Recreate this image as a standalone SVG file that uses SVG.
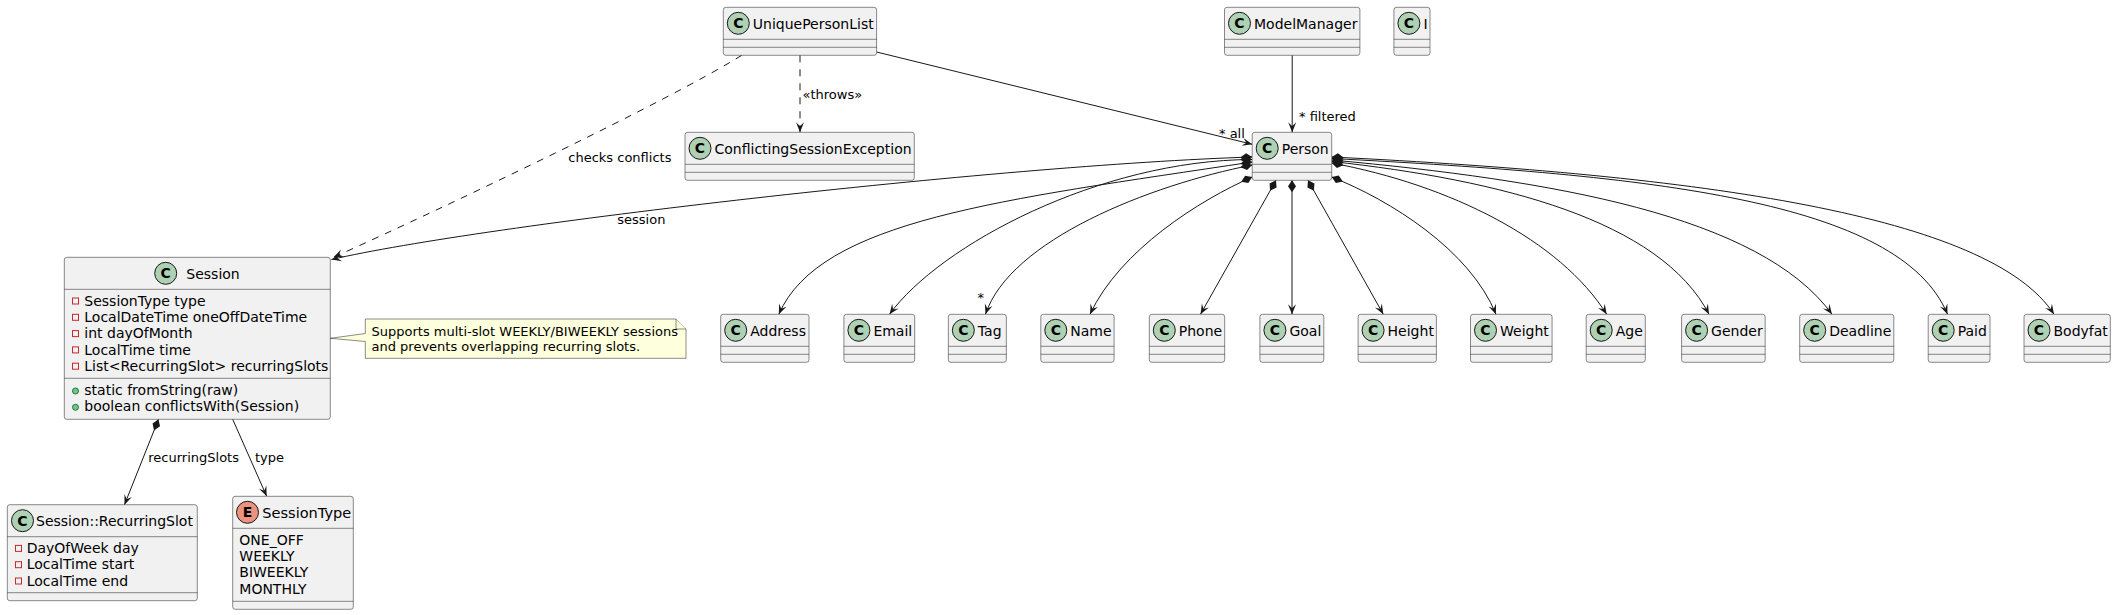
<svg xmlns="http://www.w3.org/2000/svg" width="2115" height="615" viewBox="0 0 2115 615">
<style>
.box{fill:#F1F1F1;stroke:#181818;stroke-width:0.5}
.sep{stroke:#181818;stroke-width:0.5}
.ci{fill:#ADD1B2;stroke:#181818;stroke-width:1}
.ei{fill:#EB937F;stroke:#181818;stroke-width:1}
.cl{font-family:"DejaVu Sans",sans-serif;font-size:14px;font-weight:bold;text-anchor:middle;fill:#000}
.nm{font-family:"DejaVu Sans",sans-serif;font-size:14px;fill:#000}
.lb{font-family:"DejaVu Sans",sans-serif;font-size:13px;fill:#000}
.edge{fill:none;stroke:#181818;stroke-width:1}
.dash{stroke-dasharray:7,7}
.arr{marker-end:url(#arrow)}
.comp{marker-start:url(#diamond)}
.priv{fill:none;stroke:#C82930;stroke-width:1}
.pub{fill:#84BE84;stroke:#038048;stroke-width:1}
.note{fill:#FEFFDD;stroke:#181818;stroke-width:0.5}
</style>
<defs>
<marker id="arrow" markerUnits="userSpaceOnUse" markerWidth="12" markerHeight="10" refX="10" refY="4" orient="auto" overflow="visible"><path d="M0,0 L10,4 L0,8 L4,4 Z" fill="#181818"/></marker>
<marker id="diamond" markerUnits="userSpaceOnUse" markerWidth="14" markerHeight="10" refX="0" refY="4" orient="auto" overflow="visible"><path d="M0,4 L6,0 L12,4 L6,8 Z" fill="#181818"/></marker>
</defs>
<rect x="0" y="0" width="2115" height="615" fill="#FFFFFF"/>

<g id="connectors">
<path class="edge dash arr" d="M800,55.3 L800,132.3"/>
<path class="edge dash arr" d="M741.7,55.3 C670,100 450,205 333.5,257.3"/>
<path class="edge arr" d="M876.6,52 L1252.2,144.3"/>
<path class="edge arr" d="M1292.2,55.3 L1292.2,132.3"/>
<path class="edge comp arr" d="M1252.2,157 C1000,165 480,225 331.5,259.5"/>
<path class="edge comp arr" d="M1252.2,162 C1000,200 820,220 778.8,314.3"/>
<path class="edge comp arr" d="M1252.2,159.5 C1100,160 940,245 889.5,314.3"/>
<path class="edge comp arr" d="M1252.2,165 C1150,185 1010,240 985.5,314.3"/>
<path class="edge comp arr" d="M1252.2,177 C1200,200 1120,250 1090,314.3"/>
<path class="edge comp arr" d="M1276,180.3 L1200.5,314.3"/>
<path class="edge comp arr" d="M1292,180.3 L1292,314.3"/>
<path class="edge comp arr" d="M1308,180.3 L1383.3,314.3"/>
<path class="edge comp arr" d="M1331.7,177 C1390,200 1470,250 1496,314.3"/>
<path class="edge comp arr" d="M1331.7,163 C1450,185 1560,240 1606.7,314.3"/>
<path class="edge comp arr" d="M1331.7,161.5 C1500,180 1660,220 1709,314.3"/>
<path class="edge comp arr" d="M1331.7,160 C1550,180 1760,215 1832,314.3"/>
<path class="edge comp arr" d="M1331.7,158.5 C1650,175 1900,200 1947.5,314.3"/>
<path class="edge comp arr" d="M1331.7,157 C1700,175 1990,215 2054,314.3"/>
<path class="edge comp arr" d="M158.5,419.3 L124.5,504.7"/>
<path class="edge arr" d="M232.7,419.3 L266.7,496.3"/>
<text class="lb" x="802.5" y="98.5">«throws»</text>
<text class="lb" x="568.3" y="161.5">checks conflicts</text>
<text class="lb" x="617.3" y="223.5">session</text>
<text class="lb" x="1219" y="138.3">* all</text>
<text class="lb" x="1299" y="121">* filtered</text>
<text class="lb" x="977.5" y="302">*</text>
<text class="lb" x="148.3" y="462">recurringSlots</text>
<text class="lb" x="255" y="462">type</text>
</g>

<g id="UniquePersonList"><rect class="box" x="723.3" y="7.3" width="153.3" height="48" rx="2.5"/><circle class="ci" cx="738.3" cy="23.3" r="11"/><text class="cl" x="738.3" y="28.3">C</text><text class="nm" x="752.8" y="28.8">UniquePersonList</text><line class="sep" x1="723.3" y1="39.3" x2="876.6" y2="39.3"/><line class="sep" x1="723.3" y1="47.3" x2="876.6" y2="47.3"/></g>
<g id="ModelManager"><rect class="box" x="1224.5" y="7.3" width="135.4" height="48" rx="2.5"/><circle class="ci" cx="1239.5" cy="23.3" r="11"/><text class="cl" x="1239.5" y="28.3">C</text><text class="nm" x="1254" y="28.8">ModelManager</text><line class="sep" x1="1224.5" y1="39.3" x2="1359.9" y2="39.3"/><line class="sep" x1="1224.5" y1="47.3" x2="1359.9" y2="47.3"/></g>
<g id="I"><rect class="box" x="1393.9" y="7.3" width="36.1" height="48" rx="2.5"/><circle class="ci" cx="1408.9" cy="23.3" r="11"/><text class="cl" x="1408.9" y="28.3">C</text><text class="nm" x="1423.4" y="28.8">I</text><line class="sep" x1="1393.9" y1="39.3" x2="1430" y2="39.3"/><line class="sep" x1="1393.9" y1="47.3" x2="1430" y2="47.3"/></g>
<g id="ConflictingSessionException"><rect class="box" x="685" y="132.3" width="229.3" height="48" rx="2.5"/><circle class="ci" cx="700" cy="148.3" r="11"/><text class="cl" x="700" y="153.3">C</text><text class="nm" x="714.5" y="153.8">ConflictingSessionException</text><line class="sep" x1="685" y1="164.3" x2="914.3" y2="164.3"/><line class="sep" x1="685" y1="172.3" x2="914.3" y2="172.3"/></g>
<g id="Person"><rect class="box" x="1252.2" y="132.3" width="79.5" height="48" rx="2.5"/><circle class="ci" cx="1267.2" cy="148.3" r="11"/><text class="cl" x="1267.2" y="153.3">C</text><text class="nm" x="1281.7" y="153.8">Person</text><line class="sep" x1="1252.2" y1="164.3" x2="1331.7" y2="164.3"/><line class="sep" x1="1252.2" y1="172.3" x2="1331.7" y2="172.3"/></g>

<g id="Session"><rect class="box" x="64.3" y="257.3" width="266" height="162" rx="2.5"/><circle class="ci" cx="165.7" cy="273.3" r="11"/><text class="cl" x="165.7" y="278.3">C</text><text class="nm" x="186.3" y="278.8">Session</text><line class="sep" x1="64.3" y1="289.3" x2="330.3" y2="289.3"/>
<rect class="priv" x="72.5" y="298" width="6" height="6"/><text class="nm" x="84.3" y="305.7">SessionType type</text>
<rect class="priv" x="72.5" y="314.3" width="6" height="6"/><text class="nm" x="84.3" y="322">LocalDateTime oneOffDateTime</text>
<rect class="priv" x="72.5" y="330.6" width="6" height="6"/><text class="nm" x="84.3" y="338.3">int dayOfMonth</text>
<rect class="priv" x="72.5" y="346.9" width="6" height="6"/><text class="nm" x="84.3" y="354.6">LocalTime time</text>
<rect class="priv" x="72.5" y="363.2" width="6" height="6"/><text class="nm" x="84.3" y="370.9">List&lt;RecurringSlot&gt; recurringSlots</text>
<line class="sep" x1="64.3" y1="378.3" x2="330.3" y2="378.3"/>
<circle class="pub" cx="75.5" cy="391" r="3"/><text class="nm" x="84.3" y="394.7">static fromString(raw)</text>
<circle class="pub" cx="75.5" cy="407.3" r="3"/><text class="nm" x="84.3" y="411">boolean conflictsWith(Session)</text></g>

<g id="SessionNote"><path class="note" d="M365.3,319 L676,319 L686,329 L686,358.3 L365.3,358.3 L365.3,341.5 L330.3,338.3 L365.3,333.5 Z"/><path class="note" d="M676,319 L676,329 L686,329"/><text class="lb" x="371.5" y="335.5">Supports multi-slot WEEKLY/BIWEEKLY sessions</text><text class="lb" x="371.5" y="350.5">and prevents overlapping recurring slots.</text></g>

<g id="RecurringSlot"><rect class="box" x="7.3" y="504.7" width="190" height="96" rx="2.5"/><circle class="ci" cx="22.5" cy="520.7" r="11"/><text class="cl" x="22.5" y="525.7">C</text><text class="nm" x="36" y="526.2">Session::RecurringSlot</text><line class="sep" x1="7.3" y1="536.7" x2="197.3" y2="536.7"/>
<rect class="priv" x="15.5" y="545.4" width="6" height="6"/><text class="nm" x="26.7" y="553.1">DayOfWeek day</text>
<rect class="priv" x="15.5" y="561.7" width="6" height="6"/><text class="nm" x="26.7" y="569.4">LocalTime start</text>
<rect class="priv" x="15.5" y="578" width="6" height="6"/><text class="nm" x="26.7" y="585.7">LocalTime end</text>
<line class="sep" x1="7.3" y1="592.7" x2="197.3" y2="592.7"/></g>

<g id="SessionType"><rect class="box" x="232.7" y="496.3" width="120.6" height="113" rx="2.5"/><circle class="ei" cx="247.5" cy="512.3" r="11"/><text class="cl" x="247.5" y="517.3">E</text><text class="nm" x="262.3" y="517.8" textLength="89" lengthAdjust="spacingAndGlyphs">SessionType</text><line class="sep" x1="232.7" y1="528.3" x2="353.3" y2="528.3"/>
<text class="nm" x="239.3" y="544.7">ONE_OFF</text><text class="nm" x="239.3" y="561">WEEKLY</text><text class="nm" x="239.3" y="577.3">BIWEEKLY</text><text class="nm" x="239.3" y="593.6">MONTHLY</text>
<line class="sep" x1="232.7" y1="601.3" x2="353.3" y2="601.3"/></g>

<g id="Address"><rect class="box" x="720.7" y="314.3" width="88.3" height="48" rx="2.5"/><circle class="ci" cx="735.7" cy="330.3" r="11"/><text class="cl" x="735.7" y="335.3">C</text><text class="nm" x="750.2" y="335.8">Address</text><line class="sep" x1="720.7" y1="346.3" x2="809" y2="346.3"/><line class="sep" x1="720.7" y1="354.3" x2="809" y2="354.3"/></g>
<g id="Email"><rect class="box" x="843.9" y="314.3" width="70.8" height="48" rx="2.5"/><circle class="ci" cx="858.9" cy="330.3" r="11"/><text class="cl" x="858.9" y="335.3">C</text><text class="nm" x="873.4" y="335.8">Email</text><line class="sep" x1="843.9" y1="346.3" x2="914.7" y2="346.3"/><line class="sep" x1="843.9" y1="354.3" x2="914.7" y2="354.3"/></g>
<g id="Tag"><rect class="box" x="948.35" y="314.3" width="58" height="48" rx="2.5"/><circle class="ci" cx="963.35" cy="330.3" r="11"/><text class="cl" x="963.35" y="335.3">C</text><text class="nm" x="977.85" y="335.8">Tag</text><line class="sep" x1="948.35" y1="346.3" x2="1006.35" y2="346.3"/><line class="sep" x1="948.35" y1="354.3" x2="1006.35" y2="354.3"/></g>
<g id="Name"><rect class="box" x="1040.8" y="314.3" width="73.3" height="48" rx="2.5"/><circle class="ci" cx="1055.8" cy="330.3" r="11"/><text class="cl" x="1055.8" y="335.3">C</text><text class="nm" x="1070.3" y="335.8">Name</text><line class="sep" x1="1040.8" y1="346.3" x2="1114.1" y2="346.3"/><line class="sep" x1="1040.8" y1="354.3" x2="1114.1" y2="354.3"/></g>
<g id="Phone"><rect class="box" x="1149.3" y="314.3" width="75.4" height="48" rx="2.5"/><circle class="ci" cx="1164.3" cy="330.3" r="11"/><text class="cl" x="1164.3" y="335.3">C</text><text class="nm" x="1178.8" y="335.8">Phone</text><line class="sep" x1="1149.3" y1="346.3" x2="1224.7" y2="346.3"/><line class="sep" x1="1149.3" y1="354.3" x2="1224.7" y2="354.3"/></g>
<g id="Goal"><rect class="box" x="1259.9" y="314.3" width="63.9" height="48" rx="2.5"/><circle class="ci" cx="1274.9" cy="330.3" r="11"/><text class="cl" x="1274.9" y="335.3">C</text><text class="nm" x="1289.4" y="335.8">Goal</text><line class="sep" x1="1259.9" y1="346.3" x2="1323.8" y2="346.3"/><line class="sep" x1="1259.9" y1="354.3" x2="1323.8" y2="354.3"/></g>
<g id="Height"><rect class="box" x="1358.1" y="314.3" width="78.3" height="48" rx="2.5"/><circle class="ci" cx="1373.1" cy="330.3" r="11"/><text class="cl" x="1373.1" y="335.3">C</text><text class="nm" x="1387.6" y="335.8">Height</text><line class="sep" x1="1358.1" y1="346.3" x2="1436.4" y2="346.3"/><line class="sep" x1="1358.1" y1="354.3" x2="1436.4" y2="354.3"/></g>
<g id="Weight"><rect class="box" x="1470.5" y="314.3" width="81.6" height="48" rx="2.5"/><circle class="ci" cx="1485.5" cy="330.3" r="11"/><text class="cl" x="1485.5" y="335.3">C</text><text class="nm" x="1500" y="335.8">Weight</text><line class="sep" x1="1470.5" y1="346.3" x2="1552.1" y2="346.3"/><line class="sep" x1="1470.5" y1="354.3" x2="1552.1" y2="354.3"/></g>
<g id="Age"><rect class="box" x="1586.2" y="314.3" width="59.1" height="48" rx="2.5"/><circle class="ci" cx="1601.2" cy="330.3" r="11"/><text class="cl" x="1601.2" y="335.3">C</text><text class="nm" x="1615.7" y="335.8">Age</text><line class="sep" x1="1586.2" y1="346.3" x2="1645.3" y2="346.3"/><line class="sep" x1="1586.2" y1="354.3" x2="1645.3" y2="354.3"/></g>
<g id="Gender"><rect class="box" x="1681.6" y="314.3" width="83.6" height="48" rx="2.5"/><circle class="ci" cx="1696.6" cy="330.3" r="11"/><text class="cl" x="1696.6" y="335.3">C</text><text class="nm" x="1711.1" y="335.8">Gender</text><line class="sep" x1="1681.6" y1="346.3" x2="1765.2" y2="346.3"/><line class="sep" x1="1681.6" y1="354.3" x2="1765.2" y2="354.3"/></g>
<g id="Deadline"><rect class="box" x="1799.7" y="314.3" width="94.1" height="48" rx="2.5"/><circle class="ci" cx="1814.7" cy="330.3" r="11"/><text class="cl" x="1814.7" y="335.3">C</text><text class="nm" x="1829.2" y="335.8">Deadline</text><line class="sep" x1="1799.7" y1="346.3" x2="1893.8" y2="346.3"/><line class="sep" x1="1799.7" y1="354.3" x2="1893.8" y2="354.3"/></g>
<g id="Paid"><rect class="box" x="1928.2" y="314.3" width="61.8" height="48" rx="2.5"/><circle class="ci" cx="1943.2" cy="330.3" r="11"/><text class="cl" x="1943.2" y="335.3">C</text><text class="nm" x="1957.7" y="335.8">Paid</text><line class="sep" x1="1928.2" y1="346.3" x2="1990" y2="346.3"/><line class="sep" x1="1928.2" y1="354.3" x2="1990" y2="354.3"/></g>
<g id="Bodyfat"><rect class="box" x="2024" y="314.3" width="86.3" height="48" rx="2.5"/><circle class="ci" cx="2039" cy="330.3" r="11"/><text class="cl" x="2039" y="335.3">C</text><text class="nm" x="2053.5" y="335.8">Bodyfat</text><line class="sep" x1="2024" y1="346.3" x2="2110.3" y2="346.3"/><line class="sep" x1="2024" y1="354.3" x2="2110.3" y2="354.3"/></g>
</svg>
